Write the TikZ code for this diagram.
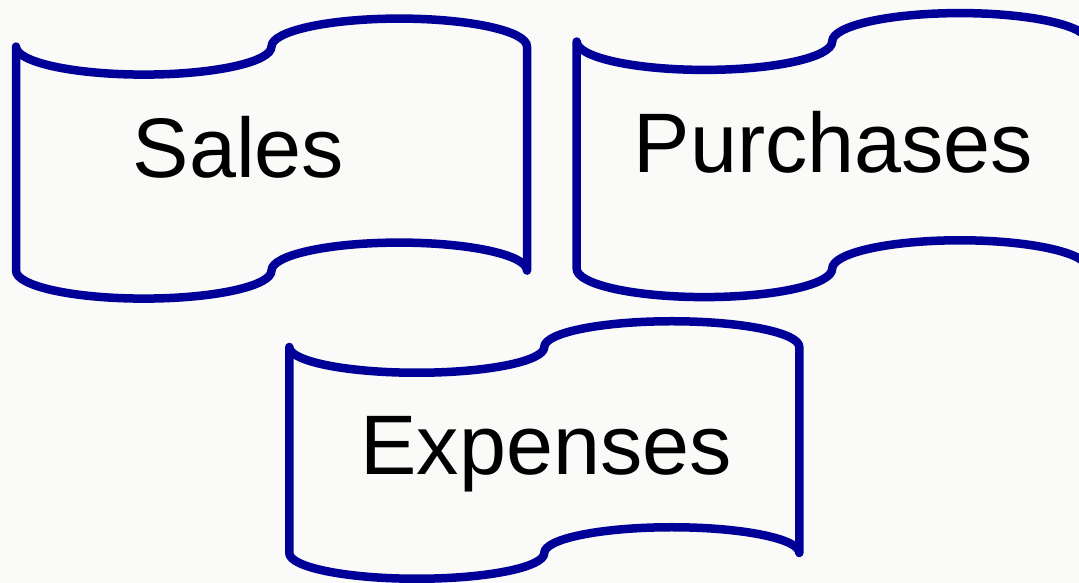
\documentclass[tikz,border=0pt]{standalone}
\usepackage{fontspec}
\setmainfont{Liberation Sans}
\definecolor{tapeblue}{RGB}{0,0,153}
\definecolor{paper}{RGB}{250,250,249}

% Punched-tape outline: left edge x, y of the upper left tip, width, wave depth (0.1 h)
\newcommand{\punchedtape}[4]{%
  \draw[tape] (#1,#2)
    arc[start angle=180, end angle=360, x radius={#3/4}, y radius=#4]
    arc[start angle=180, end angle=0,   x radius={#3/4}, y radius=#4]
    -- ++(0,{-8*#4})
    arc[start angle=0, end angle=180,   x radius={#3/4}, y radius=#4]
    arc[start angle=0, end angle=-180,  x radius={#3/4}, y radius=#4]
    -- cycle;%
}

\begin{document}
\begin{tikzpicture}[x=1pt, y=1pt,
  tape/.style={draw=tapeblue, line width=8.5pt, line join=round, line cap=round},
  label/.style={anchor=base, inner sep=0pt, font=\fontsize{84.5}{84.5}\selectfont, text=black}]
  \useasboundingbox (0,0) rectangle (1079,583);
  \clip (0,0) rectangle (1079,583);
  \fill[paper] (0,0) rectangle (1079,583);

  % the three tapes
  \punchedtape{16}{536.4}{511}{28}
  \punchedtape{576.7}{541.5}{511}{28.4}
  \punchedtape{289.3}{236}{510}{25.75}

  % captions
  \node[label] (sales)     at (238.4,405.7) {Sales};
  \node[label] (purchases) at (833.5,410.3) {Purchases};
  \node[label] (expenses)  at (546,108)     {Expenses};
\end{tikzpicture}
\end{document}
